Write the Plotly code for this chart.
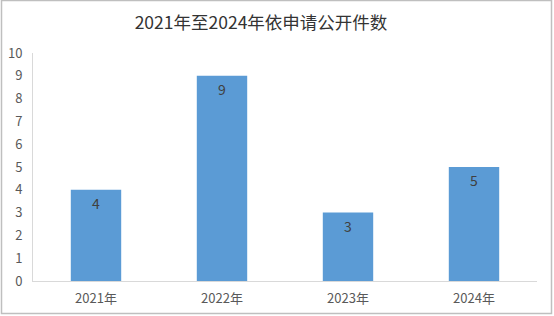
import plotly.graph_objects as go

categories = ["2021年", "2022年", "2023年", "2024年"]
values = [4, 9, 3, 5]
y_ticks = list(range(0, 11))
title_text = "2021年至2024年依申请公开件数"

FONT = "Noto Sans CJK SC, Microsoft YaHei, sans-serif"

fig = go.Figure()
fig.add_trace(go.Bar(
    x=categories, y=values,
    marker=dict(color="#5B9BD5", line=dict(width=0)),
    text=[str(v) for v in values],
    textposition="inside", insidetextanchor="end",
    textfont=dict(family=FONT, size=14, color="#404040"),
    width=0.4,
))

fig.update_layout(
    width=554, height=316,
    margin=dict(l=33, r=17, t=53, b=35, autoexpand=False),
    paper_bgcolor="white", plot_bgcolor="white",
    showlegend=False,
    title=dict(text=title_text, x=261 / 554, xanchor="center", y=1 - 23 / 316, yanchor="middle",
               font=dict(family=FONT, size=17.5, color="#333333")),
    font=dict(family=FONT, color="#595959"),
    xaxis=dict(showgrid=False, showline=True, linecolor="#D9D9D9", linewidth=1, automargin=False,
               ticks="", tickfont=dict(size=13, color="#595959"), ticklabelstandoff=5),
    yaxis=dict(range=[0, 10], tickvals=y_ticks, showgrid=False, showline=True, automargin=False,
               linecolor="#D9D9D9", linewidth=1, ticks="", zeroline=False,
               tickfont=dict(size=13, color="#595959"), ticklabelstandoff=7),
    shapes=[dict(type="rect", xref="paper", yref="paper",
                 x0=(1.5 - 33) / 504, x1=(551.5 - 33) / 504,
                 y0=(281 - 313.5) / 228, y1=(281 - 0.5) / 228,
                 line=dict(color="#BFBFBF", width=1.5), fillcolor="rgba(0,0,0,0)", layer="below")],
)

fig.write_html("out.html")
